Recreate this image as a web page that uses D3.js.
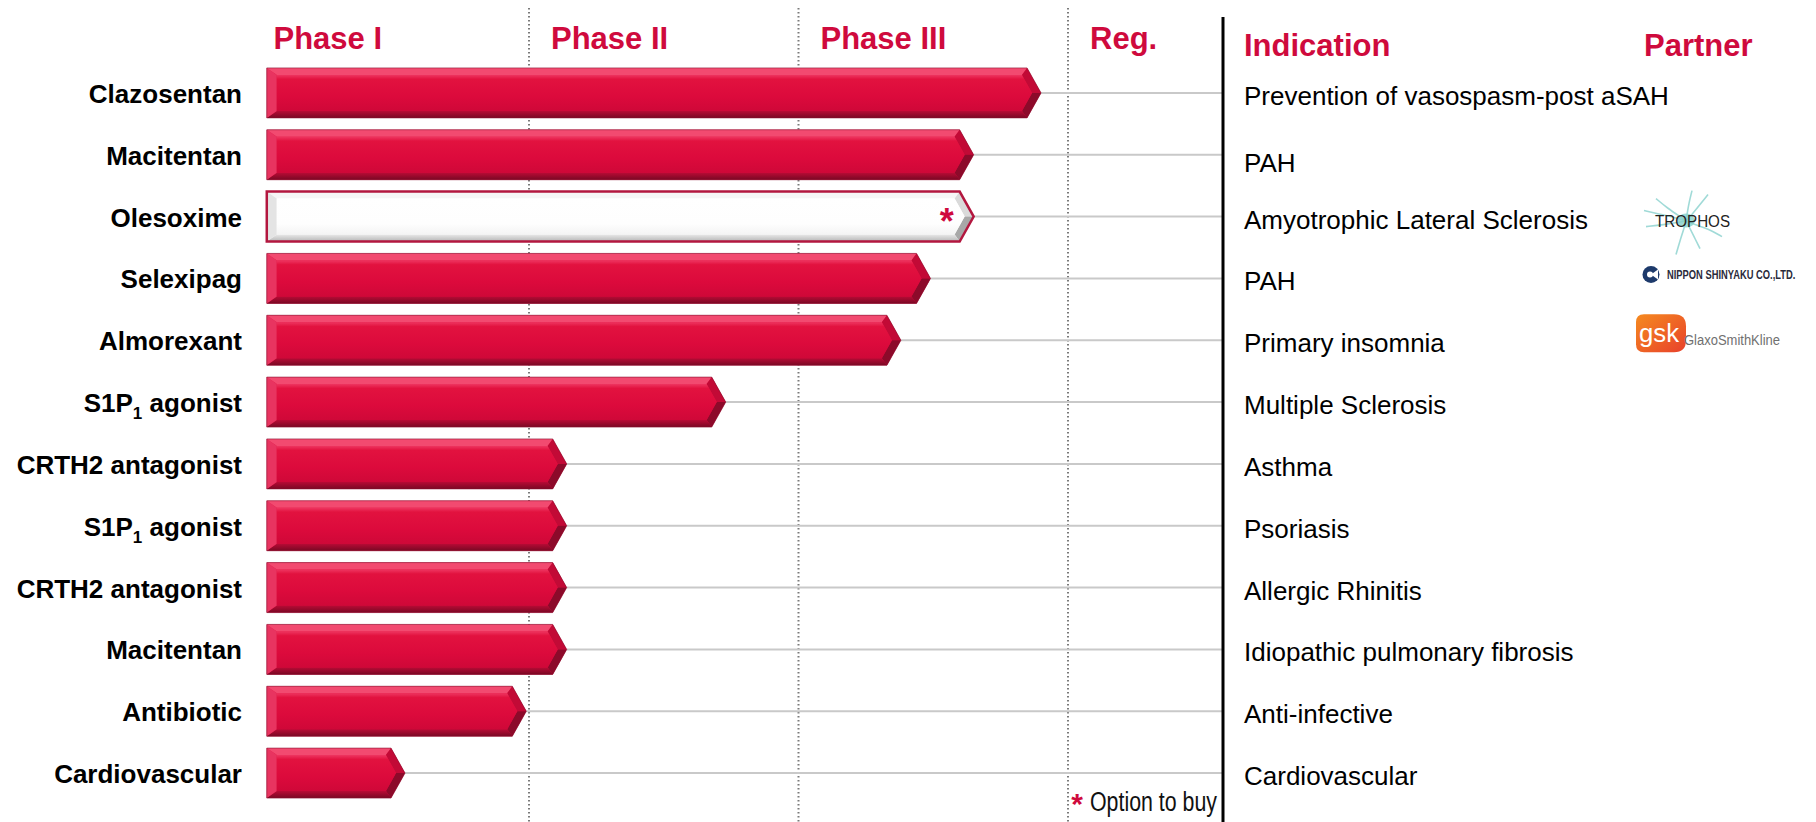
<!DOCTYPE html>
<html>
<head>
<meta charset="utf-8">
<script src="https://cdn.jsdelivr.net/npm/d3@7"></script>
<style>
  html, body { margin: 0; padding: 0; background: #fff; }
  svg { display: block; font-family: "Liberation Sans", Arial, sans-serif; }
</style>
</head>
<body>
<svg id="chart" width="1816" height="822"></svg>
<script>
// ---------------- data ----------------
const phases = ["Phase I", "Phase II", "Phase III", "Reg."];
const drugs = ["Clazosentan", "Macitentan", "Olesoxime", "Selexipag", "Almorexant",
  "S1P₁ agonist", "CRTH2 antagonist", "S1P₁ agonist", "CRTH2 antagonist",
  "Macitentan", "Antibiotic", "Cardiovascular"];
// progress measured in phases (0 = start of Phase I, 1 = start of Phase II, ...)
const progress = [2.90, 2.65, 2.65, 2.49, 2.38, 1.73, 1.14, 1.14, 1.14, 1.14, 0.99, 0.54];
const indications = ["Prevention of vasospasm-post aSAH", "PAH", "Amyotrophic Lateral Sclerosis",
  "PAH", "Primary insomnia", "Multiple Sclerosis", "Asthma", "Psoriasis",
  "Allergic Rhinitis", "Idiopathic pulmonary fibrosis", "Anti-infective", "Cardiovascular"];
const optionToBuy = [false, false, true, false, false, false, false, false, false, false, false, false];
const partners = ["", "", "TROPHOS", "NIPPON SHINYAKU CO.,LTD.", "GlaxoSmithKline", "", "", "", "", "", "", ""];
const headerRight = ["Indication", "Partner"];
const footnote = "Option to buy";
const barStart = 0.027;

// ---------------- layout ----------------
const RED = "#cf0a3d";
const svg = d3.select("#chart");
const x = d3.scaleLinear().domain([0, 4]).range([259.5, 1337.5]);
const y = d3.scalePoint().domain(d3.range(drugs.length)).range([62, 804]).padding(0.5);
const sepX = 1223;
const barH = 50, head = 14;

// gradients
const defs = svg.append("defs");
const gRed = defs.append("linearGradient").attr("id", "faceRed").attr("x1", 0).attr("y1", 0).attr("x2", 0).attr("y2", 1);
[[0, "#ee3560"], [0.12, "#e2123f"], [0.6, "#dc0a3c"], [1, "#cf0838"]].forEach(s => gRed.append("stop").attr("offset", s[0]).attr("stop-color", s[1]));
const gWhite = defs.append("linearGradient").attr("id", "faceWhite").attr("x1", 0).attr("y1", 0).attr("x2", 0).attr("y2", 1);
[[0, "#ffffff"], [0.7, "#fefefe"], [1, "#f4f4f4"]].forEach(s => gWhite.append("stop").attr("offset", s[0]).attr("stop-color", s[1]));
const gBotRed = defs.append("linearGradient").attr("id", "botRed").attr("x1", 0).attr("y1", 0).attr("x2", 0).attr("y2", 1);
[[0, "#b80b35"], [1, "#7a0824"]].forEach(s => gBotRed.append("stop").attr("offset", s[0]).attr("stop-color", s[1]));
const gBotWhite = defs.append("linearGradient").attr("id", "botWhite").attr("x1", 0).attr("y1", 0).attr("x2", 0).attr("y2", 1);
[[0, "#e8e8e8"], [1, "#b4b4b4"]].forEach(s => gBotWhite.append("stop").attr("offset", s[0]).attr("stop-color", s[1]));
const gGsk = defs.append("linearGradient").attr("id", "gsk").attr("x1", 0).attr("y1", 0).attr("x2", 1).attr("y2", 1);
[[0, "#f58a1f"], [1, "#e8412b"]].forEach(s => gGsk.append("stop").attr("offset", s[0]).attr("stop-color", s[1]));

// phase dividers (dotted)
svg.append("g").selectAll("line").data([1, 2, 3]).join("line")
  .attr("x1", d => x(d)).attr("x2", d => x(d))
  .attr("y1", 8).attr("y2", 822)
  .attr("stroke", "#7a7a7a").attr("stroke-width", 2)
  .attr("stroke-dasharray", "1.5,2.5");

// phase headers
svg.append("g").selectAll("text").data(phases).join("text")
  .attr("x", (d, i) => i === 0 ? x(0) + 14 : x(i) + 22)
  .attr("y", 49)
  .attr("fill", RED).attr("font-size", 31).attr("font-weight", "bold")
  .text(d => d);

// right column headers
svg.append("g").selectAll("text").data(headerRight).join("text")
  .attr("x", (d, i) => i === 0 ? sepX + 21 : sepX + 421)
  .attr("y", 56)
  .attr("fill", RED).attr("font-size", 31).attr("font-weight", "bold")
  .text(d => d);

// connector lines
svg.append("g").selectAll("line").data(progress).join("line")
  .attr("x1", d => x(d)).attr("x2", sepX - 1)
  .attr("y1", (d, i) => y(i)).attr("y2", (d, i) => y(i))
  .attr("stroke", "#c9c9c9").attr("stroke-width", 2);

// black separator
svg.append("line").attr("x1", sepX).attr("x2", sepX).attr("y1", 17).attr("y2", 822)
  .attr("stroke", "#000").attr("stroke-width", 3);

// bars
function pts(arr) { return arr.map(p => p.join(",")).join(" "); }
const bars = svg.append("g").selectAll("g").data(progress).join("g");
bars.each(function (v, i) {
  const g = d3.select(this);
  const x0 = x(barStart), x1 = x(v), m = y(i), hh = barH / 2;
  const t = m - hh, b = m + hh;
  const d = 7, dl = 10, s = 9;
  const A = [x0, t], B = [x1 - head, t], C = [x1, m], D = [x1 - head, b], E = [x0, b];
  const a = [x0 + dl, t + d], c = [x1 - s, m], e = [x0 + dl, b - d];
  const bb = [x1 - head + head * d / hh - s, t + d], dd = [x1 - head + head * d / hh - s, b - d];
  const white = optionToBuy[i];
  const col = white
    ? { top: "#f6f6f6", left: "#e4e4e4", rt: "#dadada", rb: "#a8a8a8", bot: "url(#botWhite)", face: "url(#faceWhite)" }
    : { top: "#f24a70", left: "#e83460", rt: "#c20a36", rb: "#8c0a2a", bot: "url(#botRed)", face: "url(#faceRed)" };
  g.append("polygon").attr("points", pts([A, B, C, D, E])).attr("fill", col.face);
  g.append("polygon").attr("points", pts([A, B, bb, a])).attr("fill", col.top);
  g.append("polygon").attr("points", pts([B, C, c, bb])).attr("fill", col.rt);
  g.append("polygon").attr("points", pts([C, D, dd, c])).attr("fill", col.rb);
  g.append("polygon").attr("points", pts([D, E, e, dd])).attr("fill", col.bot);
  g.append("polygon").attr("points", pts([E, A, a, e])).attr("fill", col.left);
  g.append("polygon").attr("points", pts([a, bb, c, dd, e])).attr("fill", col.face);
  g.append("polygon").attr("points", pts([A, B, C, D, E])).attr("fill", "none")
    .attr("stroke", white ? "#b3173f" : "#8a1030").attr("stroke-width", white ? 2.5 : 1)
    .attr("stroke-opacity", white ? 1 : 0.6);
  if (white) {
    g.append("text").attr("x", x1 - 27).attr("y", m + 17)
      .attr("text-anchor", "middle").attr("fill", RED)
      .attr("font-size", 36).attr("font-weight", "bold").text("*");
  }
});

// drug labels (with subscript support)
const labels = svg.append("g").selectAll("text").data(drugs).join("text")
  .attr("x", 242).attr("y", (d, i) => y(i) + 10)
  .attr("text-anchor", "end").attr("font-size", 26).attr("font-weight", "bold").attr("fill", "#000");
labels.each(function (d) {
  const t = d3.select(this);
  const parts = d.split("₁");
  if (parts.length === 1) { t.text(d); return; }
  t.append("tspan").text(parts[0]);
  t.append("tspan").attr("font-size", 17).attr("dy", 7).text("1");
  t.append("tspan").attr("dy", -7).text(parts[1]);
});

// indications
svg.append("g").selectAll("text").data(indications).join("text")
  .attr("x", sepX + 21).attr("y", (d, i) => y(i) + (i === 1 ? 17 : 12))
  .attr("font-size", 26).attr("fill", "#000")
  .text(d => d);

// footnote
const fn = svg.append("g");
fn.append("text").attr("x", 1077).attr("y", 814).attr("text-anchor", "middle")
  .attr("fill", RED).attr("font-size", 30).attr("font-weight", "bold").text("*");
fn.append("text").attr("x", 1090).attr("y", 811).attr("font-size", 27).attr("fill", "#111")
  .attr("textLength", 127).attr("lengthAdjust", "spacingAndGlyphs").text(footnote);

// partner logos
const logoX = sepX + 415;
partners.forEach((p, i) => {
  if (!p) return;
  const cy = y(i);
  const g = svg.append("g");
  if (p === "TROPHOS") {
    const nx = logoX + 48, ny = cy + 4;
    const strands = [
      [[-42, -10], [-24, -6], [-8, -2], [0, 0]],
      [[-40, 6], [-22, 4], [-8, 2], [0, 0]],
      [[-30, -22], [-18, -12], [-6, -4], [0, 0]],
      [[-10, 34], [-6, 20], [-2, 8], [0, 0]],
      [[22, -26], [14, -16], [6, -6], [0, 0]],
      [[36, 16], [22, 8], [8, 4], [0, 0]],
      [[6, -30], [3, -18], [1, -6], [0, 0]],
      [[14, 28], [8, 16], [3, 6], [0, 0]]
    ];
    const line = d3.line().curve(d3.curveBasis);
    strands.forEach(s => g.append("path")
      .attr("d", line(s.map(q => [nx + q[0], ny + q[1]])))
      .attr("fill", "none").attr("stroke", "#8fd3d0").attr("stroke-width", 1.6).attr("opacity", 0.85));
    g.append("ellipse").attr("cx", nx).attr("cy", ny).attr("rx", 9).attr("ry", 7).attr("fill", "#86cfcb").attr("opacity", 0.8);
    g.append("text").attr("x", logoX + 17).attr("y", cy + 10).attr("font-size", 16)
      .attr("fill", "#222").attr("textLength", 75).attr("lengthAdjust", "spacingAndGlyphs").text(p);
  } else if (p.startsWith("NIPPON")) {
    g.append("circle").attr("cx", logoX + 13).attr("cy", cy - 4).attr("r", 8.5).attr("fill", "#1d3a6b");
    g.append("path").attr("d", `M${logoX + 13},${cy - 4} L${logoX + 20},${cy - 9} L${logoX + 20},${cy + 1} Z`).attr("fill", "#fff");
    g.append("circle").attr("cx", logoX + 12).attr("cy", cy - 4).attr("r", 3).attr("fill", "#fff");
    g.append("g").attr("transform", `translate(${logoX + 29},${cy + 1}) scale(0.78,1)`)
      .append("text").attr("x", 0).attr("y", 0).attr("font-size", 12).attr("font-weight", "bold")
      .attr("fill", "#2a2a3a").text(p);
  } else {
    g.append("path")
      .attr("d", `M${logoX + 6},${cy - 26} h30 q12,0 12,12 v14 q0,12 -12,12 h-30 q-8,0 -8,-8 v-22 q0,-8 8,-8 Z`)
      .attr("fill", "url(#gsk)");
    g.append("text").attr("x", logoX + 1).attr("y", cy + 2).attr("font-size", 25).attr("fill", "#fff")
      .attr("textLength", 40).attr("lengthAdjust", "spacingAndGlyphs").text("gsk");
    g.append("text").attr("x", logoX + 46).attr("y", cy + 5).attr("font-size", 14).attr("fill", "#707070")
      .attr("textLength", 96).attr("lengthAdjust", "spacingAndGlyphs").text(p);
  }
});
</script>
</body>
</html>
